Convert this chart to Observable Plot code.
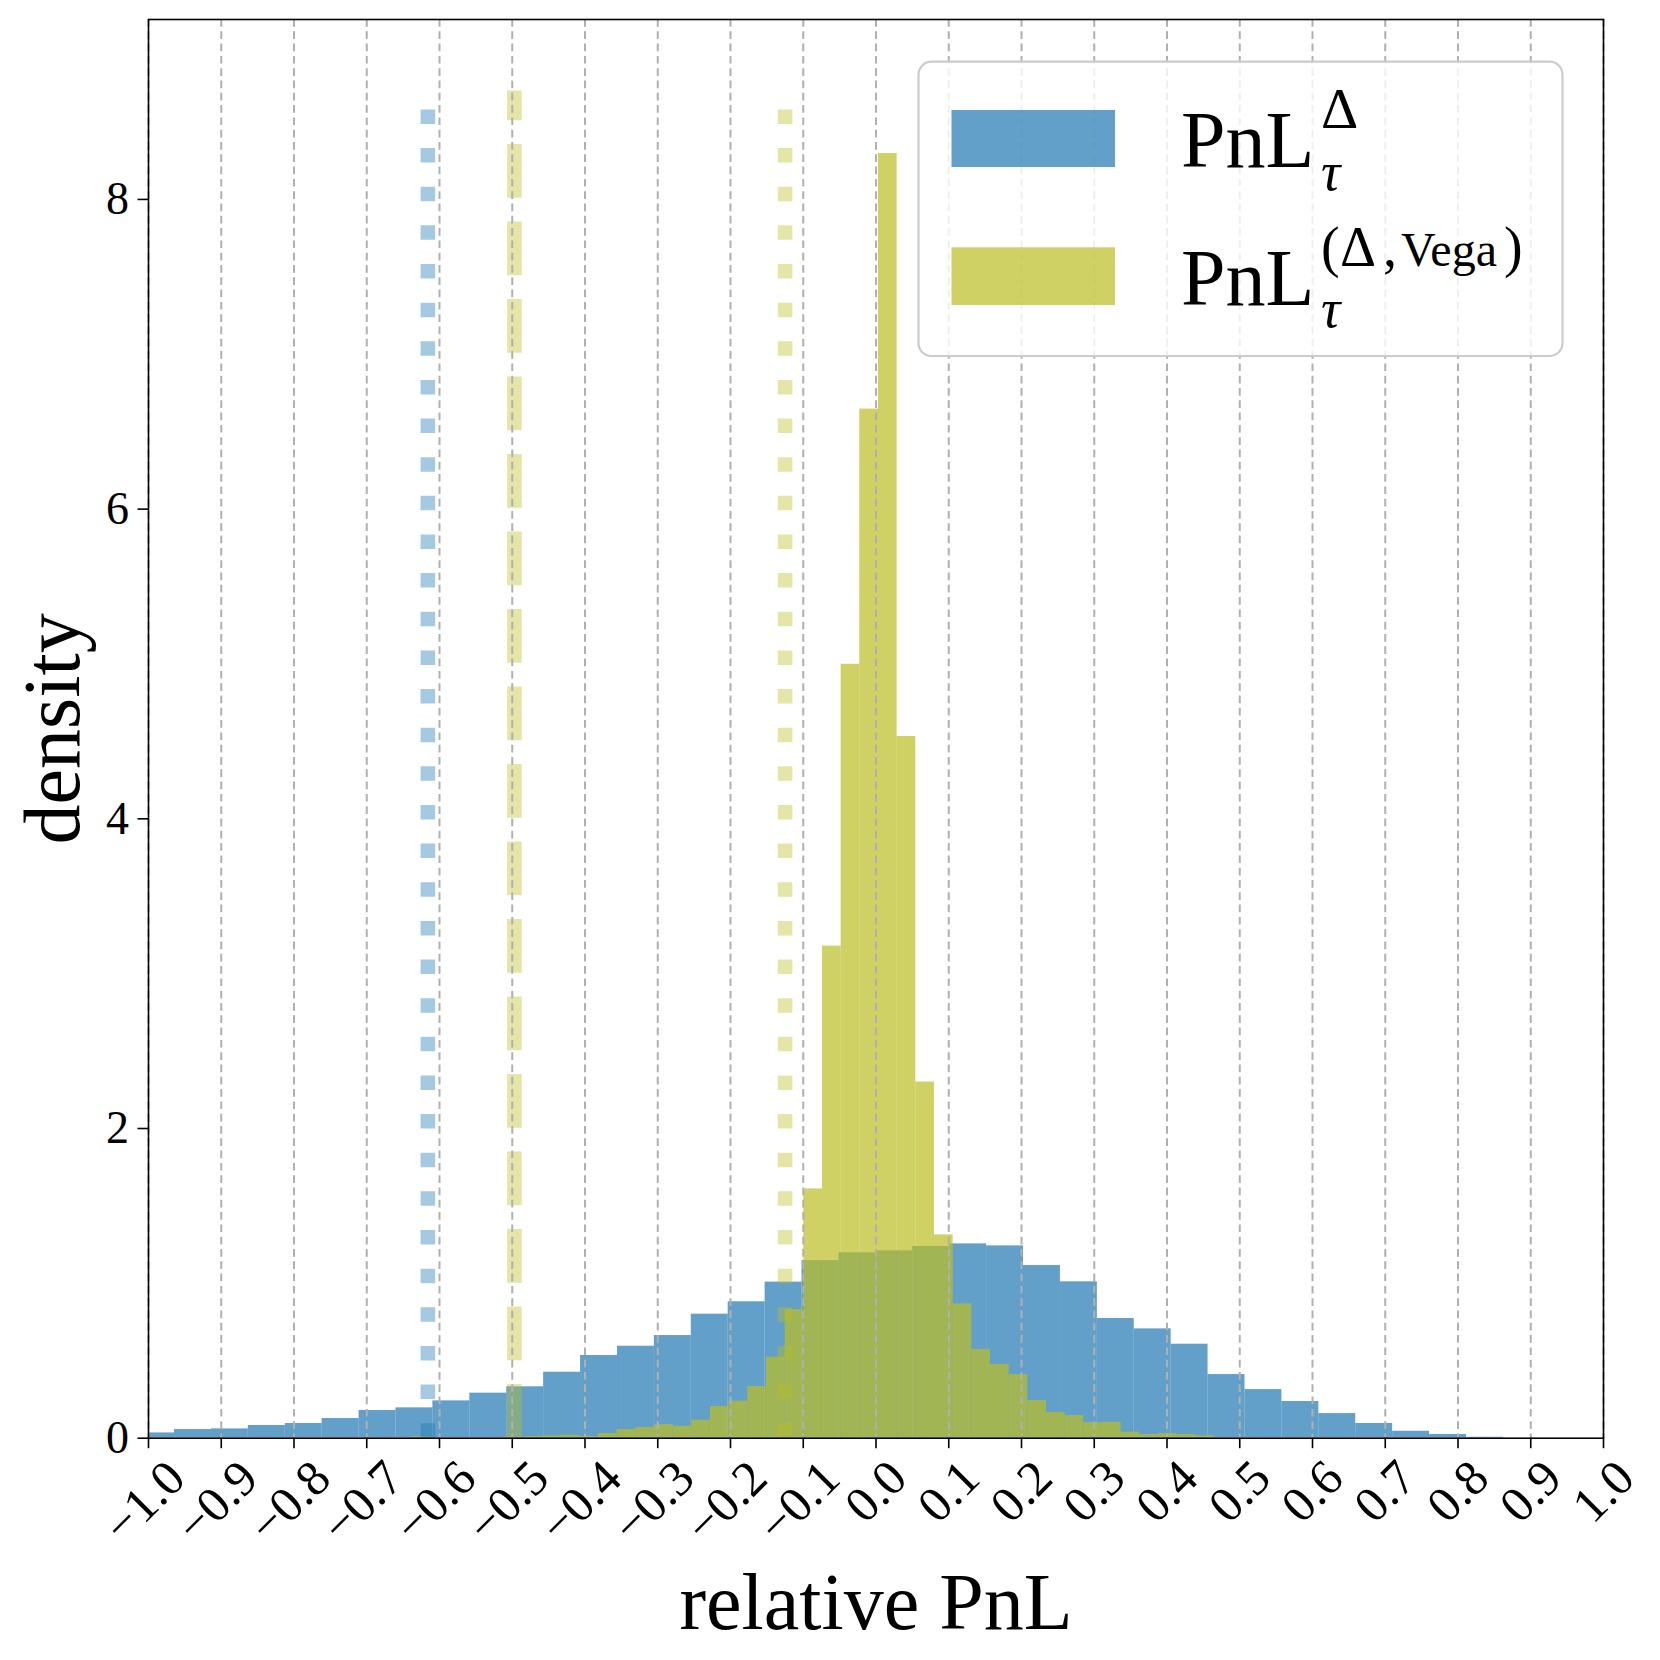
<!DOCTYPE html>
<html>
<head>
<meta charset="utf-8">
<script src="https://cdn.jsdelivr.net/npm/d3@7"></script>
<script src="https://cdn.jsdelivr.net/npm/@observablehq/plot@0.6"></script>
<style>
html,body{margin:0;padding:0;background:#fff;}
#fig{position:relative;width:1660px;height:1660px;font-family:"Liberation Serif",serif;}
#fig > svg{position:absolute;left:0;top:0;}
</style>
</head>
<body>
<div id="fig"></div>
<script>
// ---------------- data ----------------
const seriesKeys = ["delta", "vega"];
// Δ-hedged relative PnL histogram (density), regular bins
const deltaBinStart = -1.015;
const deltaBinWidth = 0.05074;
const deltaDensity = [
  0.034, 0.056, 0.060, 0.082, 0.095, 0.127, 0.179, 0.196, 0.241, 0.291,
  0.332, 0.426, 0.534, 0.594, 0.663, 0.801, 0.881, 1.008, 1.147, 1.197,
  1.210, 1.238, 1.255, 1.242, 1.115, 1.010, 0.773, 0.706, 0.607, 0.411,
  0.314, 0.237, 0.159, 0.095, 0.045, 0.024, 0.006
];
// (Δ,Vega)-hedged relative PnL histogram (density), regular bins
const vegaBinStart = -0.6381;
const vegaBinWidth = 0.02566;
const vegaDensity = [
  0.010, 0.000, 0.000, 0.000, 0.000, 0.008, 0.010, 0.015, 0.019, 0.011,
  0.030, 0.056, 0.069, 0.088, 0.077, 0.116, 0.205, 0.239, 0.334, 0.523,
  0.831, 1.610, 3.178, 4.998, 6.646, 8.297, 4.532, 2.300, 1.313, 0.868,
  0.573, 0.476, 0.411, 0.243, 0.166, 0.146, 0.101, 0.103, 0.039, 0.024,
  0.030, 0.024, 0.015
];
// vertical marker lines
const dottedX = [-0.616, -0.125];
const dottedSeries = ["delta", "vega"];
const dashedX = [-0.497];
const dashedSeries = ["vega"];
const lineTop = 8.70;
// axes
const xTicks = [-1.0, -0.9, -0.8, -0.7, -0.6, -0.5, -0.4, -0.3, -0.2, -0.1, 0.0,
                0.1, 0.2, 0.3, 0.4, 0.5, 0.6, 0.7, 0.8, 0.9, 1.0];
const yTicks = [0, 2, 4, 6, 8];
const xDomain = [-1, 1];
const yDomain = [0, 9.162];
const xLabel = "relative PnL";
const yLabel = "density";

// ---------------- build ----------------
const colors = {delta: "#1f77b4", vega: "#bcbd22"};
const bins = (start, w, vals) => vals.map((d, i) => ({x1: start + i * w, x2: start + (i + 1) * w, density: d}));
const deltaBins = bins(deltaBinStart, deltaBinWidth, deltaDensity);
const vegaBins = bins(vegaBinStart, vegaBinWidth, vegaDensity);
const dotted = dottedX.map((x, i) => ({x, series: dottedSeries[i]}));
const dashed = dashedX.map((x, i) => ({x, series: dashedSeries[i]}));
const fmt = d3.format(".1f");
const negTicks = xTicks.filter(d => d < 0);
const posTicks = xTicks.filter(d => d >= 0);

const lw = 14.6;
const vlineMarks = [];
for (const s of seriesKeys) {
  vlineMarks.push(Plot.ruleX(dotted.filter(d => d.series === s), {
    x: "x", y1: 0, y2: lineTop, stroke: colors[s], strokeOpacity: 0.4,
    strokeWidth: lw, strokeDasharray: "14.5,24.14", strokeLinecap: "butt"
  }));
  vlineMarks.push(Plot.ruleX(dashed.filter(d => d.series === s), {
    x: "x", y1: 0, y2: lineTop, stroke: colors[s], strokeOpacity: 0.4,
    strokeWidth: lw, strokeDasharray: "53.8,23.7", strokeLinecap: "butt"
  }));
}

const chart = Plot.plot({
  width: 1660,
  height: 1660,
  marginLeft: 148,
  marginRight: 57,
  marginTop: 19,
  marginBottom: 222.3,
  x: {domain: xDomain},
  y: {domain: yDomain},
  style: {fontFamily: "'Liberation Serif', serif", color: "black", background: "white", overflow: "visible"},
  marks: [
    Plot.rectY(deltaBins, {x1: "x1", x2: "x2", y: "density", fill: colors.delta, fillOpacity: 0.7, inset: 0, clip: true}),
    Plot.rectY(vegaBins, {x1: "x1", x2: "x2", y: "density", fill: colors.vega, fillOpacity: 0.7, inset: 0, clip: true}),
    ...vlineMarks,
    Plot.gridX(xTicks, {stroke: "#b0b0b0", strokeOpacity: 1, strokeWidth: 2, strokeDasharray: "7.7,4.6"}),
    Plot.frame({stroke: "black", strokeWidth: 1.6}),
    Plot.axisX(xTicks, {tickSize: 10.5, strokeWidth: 1.6, tickFormat: () => "", label: null}),
    Plot.axisY(yTicks, {tickSize: 10.5, tickPadding: 9, strokeWidth: 1.6, fontSize: 46, label: null,
      tickFormat: d => String(d)}),
    Plot.text(negTicks, {x: d => d, text: fmt, frameAnchor: "bottom", dx: -4.3, dy: 63.6, rotate: -45,
      textAnchor: "middle", lineAnchor: "middle", fontSize: 50}),
    Plot.text(posTicks, {x: d => d, text: fmt, frameAnchor: "bottom", dx: 0, dy: 53.4, rotate: -45,
      textAnchor: "middle", lineAnchor: "middle", fontSize: 50}),
    Plot.text([xLabel], {frameAnchor: "bottom", dy: 165, fontSize: 80, lineAnchor: "middle", textAnchor: "middle"}),
    Plot.text([yLabel], {frameAnchor: "left", dx: -95, rotate: -90, fontSize: 80, lineAnchor: "middle", textAnchor: "middle"})
  ]
});

const fig = document.getElementById("fig");
fig.appendChild(chart);

// ---------------- legend (overlay inside the axes) ----------------
const ns = "http://www.w3.org/2000/svg";
const leg = document.createElementNS(ns, "svg");
leg.setAttribute("width", 1660);
leg.setAttribute("height", 1660);
leg.setAttribute("style", "position:absolute;left:0;top:0;font-family:'Liberation Serif',serif;");
leg.innerHTML = `
  <rect x="918.5" y="61.7" width="644" height="294.3" rx="13" ry="13"
        fill="white" fill-opacity="0.8" stroke="#cccccc" stroke-width="2.2"/>
  <rect x="951.5" y="110" width="163.5" height="57" fill="${colors.delta}" fill-opacity="0.7"/>
  <rect x="951.5" y="247.3" width="163.5" height="57.7" fill="${colors.vega}" fill-opacity="0.7"/>
  <text font-size="80" fill="black"><tspan x="1181" y="166.7">PnL</tspan><tspan x="1321" y="128" font-size="58">Δ</tspan><tspan x="1321" y="190" font-size="54" font-style="italic">τ</tspan></text>
  <text font-size="80" fill="black"><tspan x="1181" y="305">PnL</tspan><tspan x="1321" y="327" font-size="54" font-style="italic">τ</tspan><tspan x="1321" y="266" font-size="56">(</tspan><tspan x="1340" y="266" font-size="56">Δ</tspan><tspan x="1383" y="266" font-size="56">,</tspan><tspan x="1401" y="266" font-size="48">Vega</tspan><tspan x="1504" y="266" font-size="56">)</tspan></text>
`;
fig.appendChild(leg);
</script>
</body>
</html>
